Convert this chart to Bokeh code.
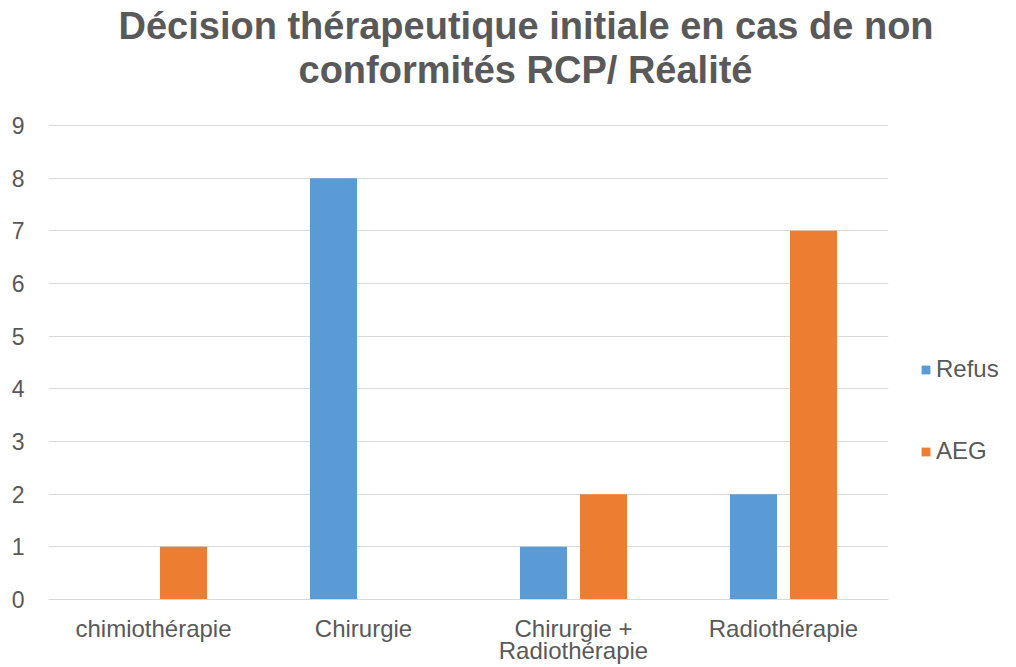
from bokeh.plotting import figure
from bokeh.models import ColumnDataSource, FactorRange, Range1d, Legend, LegendItem, Title, FixedTicker
from bokeh.transform import dodge
from bokeh.embed import file_html
from bokeh.resources import INLINE

categories = ["chimiothérapie", "Chirurgie", "Chirurgie +\nRadiothérapie", "Radiothérapie"]
refus = [0, 8, 1, 2]
aeg = [1, 0, 2, 7]
series_names = ["Refus", "AEG"]
title_lines = ["Décision thérapeutique initiale en cas de non", "conformités RCP/ Réalité"]
y_ticks = [0, 1, 2, 3, 4, 5, 6, 7, 8, 9]

FONT = "Liberation Sans"
GREY = "#595959"
BLUE = "#5B9BD5"
ORANGE = "#ED7D31"

src = ColumnDataSource(dict(cat=categories, refus=refus, aeg=aeg))

p = figure(frame_width=840, frame_height=475, x_range=FactorRange(*categories, range_padding=0),
           y_range=Range1d(0, 9.02), output_backend="svg", toolbar_location=None,
           min_border_left=48, min_border_right=112, min_border_top=124, min_border_bottom=66)

r1 = p.vbar(x=dodge("cat", -0.143, range=p.x_range), top="refus", width=0.224, source=src,
            fill_color=BLUE, line_color=None)
r2 = p.vbar(x=dodge("cat", 0.143, range=p.x_range), top="aeg", width=0.224, source=src,
            fill_color=ORANGE, line_color=None)

p.outline_line_color = None
p.background_fill_color = "white"
p.border_fill_color = "white"

p.xgrid.grid_line_color = None
p.ygrid.grid_line_color = "#d9d9d9"
p.ygrid.grid_line_width = 1
p.yaxis.ticker = FixedTicker(ticks=y_ticks)

p.yaxis.axis_line_color = None
p.yaxis.major_tick_line_color = None
p.yaxis.minor_tick_line_color = None
p.yaxis.major_label_text_font = FONT
p.yaxis.major_label_text_font_size = "23px"
p.yaxis.major_label_text_color = GREY
p.yaxis.major_label_standoff = 18

p.xaxis.axis_line_color = "#d9d9d9"
p.xaxis.major_tick_line_color = None
p.xaxis.minor_tick_line_color = None
p.xaxis.major_label_text_font = FONT
p.xaxis.major_label_text_font_size = "24px"
p.xaxis.major_label_text_line_height = 0.82
p.xaxis.major_label_text_color = GREY
p.xaxis.major_label_standoff = 9

# above panel stacks outward from the frame: spacer, line 2, line 1
p.add_layout(Title(text=" ", text_font=FONT, text_font_size="1px", standoff=31), "above")
p.add_layout(Title(text=title_lines[1], align="left", offset=250, text_font=FONT,
                   text_font_size="38px", text_font_style="bold", text_color=GREY,
                   text_line_height=0.9, standoff=0), "above")
p.add_layout(Title(text=title_lines[0], align="left", offset=70, text_font=FONT,
                   text_font_size="38px", text_font_style="bold", text_color=GREY,
                   text_line_height=0.9, standoff=0), "above")

legend = Legend(items=[LegendItem(label=series_names[0], renderers=[r1]),
                       LegendItem(label=series_names[1], renderers=[r2])],
                location=(32, 134), orientation="vertical",
                glyph_width=11, glyph_height=11, label_height=25, spacing=54,
                label_standoff=5, padding=0, margin=0,
                border_line_color=None, background_fill_alpha=0,
                label_text_font=FONT, label_text_font_size="24px", label_text_color=GREY)
p.add_layout(legend, "right")

open("out.html", "w").write(file_html(p, INLINE))
